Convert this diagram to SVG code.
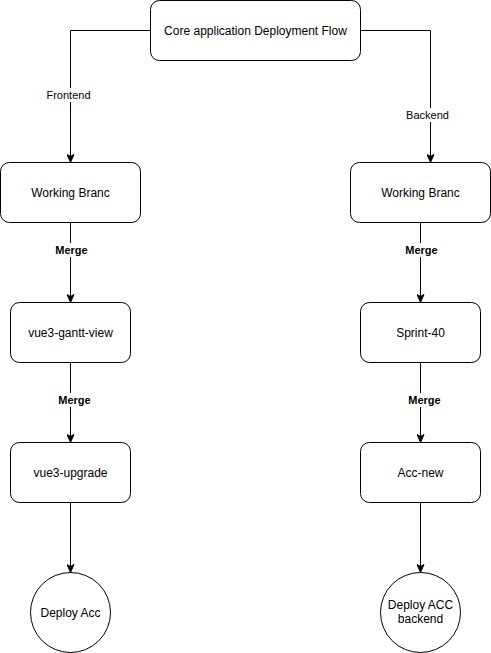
<svg xmlns="http://www.w3.org/2000/svg" width="491" height="653" viewBox="0 0 491 653">
<style>
.node rect, .node circle { fill: #ffffff; stroke: #000000; stroke-width: 1; }
.node text { font-family: "Liberation Sans", Arial, Helvetica, sans-serif; font-size: 12px; fill: #000000; text-anchor: middle; }
.edge { fill: none; stroke: #000000; stroke-width: 1; marker-end: url(#arrow); }
.lbl-bg { fill: #ffffff; stroke: none; }
.lbl { font-family: "Liberation Sans", Arial, Helvetica, sans-serif; font-size: 11px; fill: #000000; text-anchor: middle; }
.bold { font-weight: bold; }
</style>
<defs>
<marker id="arrow" markerUnits="userSpaceOnUse" viewBox="0 0 9 8" refX="8.5" refY="4" markerWidth="9" markerHeight="8" orient="auto">
<path d="M0.5,0.5 L8.5,4 L0.5,7.5 L2.5,4 Z" fill="#000000" stroke="#000000" stroke-width="1"/>
</marker>
</defs>
<rect width="491" height="653" fill="#ffffff"/>
<g id="connectors">
<path class="edge" d="M150.5,30.5 H70.5 V162.5"/>
<path class="edge" d="M360.5,30.5 H430.5 V162.5"/>
<path class="edge" d="M70.5,222.5 V302.5"/>
<path class="edge" d="M420.5,222.5 V302.5"/>
<path class="edge" d="M70.5,362.5 V442.5"/>
<path class="edge" d="M420.5,362.5 V442.5"/>
<path class="edge" d="M70.5,502.5 V572.5"/>
<path class="edge" d="M420.5,502.5 V572.5"/>
<rect class="lbl-bg" x="46" y="88" width="45" height="14"/>
<text class="lbl" x="68.5" y="99">Frontend</text>
<rect class="lbl-bg" x="405" y="108" width="45" height="14"/>
<text class="lbl" x="427.5" y="119">Backend</text>
<rect class="lbl-bg" x="55" y="243" width="33" height="14"/>
<text class="lbl bold" x="71.5" y="254">Merge</text>
<rect class="lbl-bg" x="405" y="243" width="33" height="14"/>
<text class="lbl bold" x="421.5" y="254">Merge</text>
<rect class="lbl-bg" x="58" y="393" width="33" height="14"/>
<text class="lbl bold" x="74.5" y="404">Merge</text>
<rect class="lbl-bg" x="408" y="393" width="33" height="14"/>
<text class="lbl bold" x="424.5" y="404">Merge</text>
</g>
<g id="core" class="node">
<rect x="150.5" y="0.5" width="210" height="60" rx="9" ry="9"/>
<text x="255.5" y="34.5">Core application Deployment Flow</text>
</g>
<g id="wb-front" class="node">
<rect x="0.5" y="162.5" width="140" height="60" rx="9" ry="9"/>
<text x="70.5" y="196.5">Working Branc</text>
</g>
<g id="wb-back" class="node">
<rect x="350.5" y="162.5" width="140" height="60" rx="9" ry="9"/>
<text x="420.5" y="196.5">Working Branc</text>
</g>
<g id="gantt" class="node">
<rect x="10.5" y="302.5" width="120" height="60" rx="9" ry="9"/>
<text x="70.5" y="336.5">vue3-gantt-view</text>
</g>
<g id="sprint" class="node">
<rect x="360.5" y="302.5" width="120" height="60" rx="9" ry="9"/>
<text x="420.5" y="336.5">Sprint-40</text>
</g>
<g id="upgrade" class="node">
<rect x="10.5" y="442.5" width="120" height="60" rx="9" ry="9"/>
<text x="70.5" y="476.5">vue3-upgrade</text>
</g>
<g id="accnew" class="node">
<rect x="360.5" y="442.5" width="120" height="60" rx="9" ry="9"/>
<text x="420.5" y="476.5">Acc-new</text>
</g>
<g id="deploy-acc" class="node">
<circle cx="70.5" cy="612.5" r="40"/>
<text x="70.5" y="616.5">Deploy Acc</text>
</g>
<g id="deploy-backend" class="node">
<circle cx="420.5" cy="612.5" r="40"/>
<text x="420.5" y="608.5">Deploy ACC</text>
<text x="420.5" y="623">backend</text>
</g>
</svg>
